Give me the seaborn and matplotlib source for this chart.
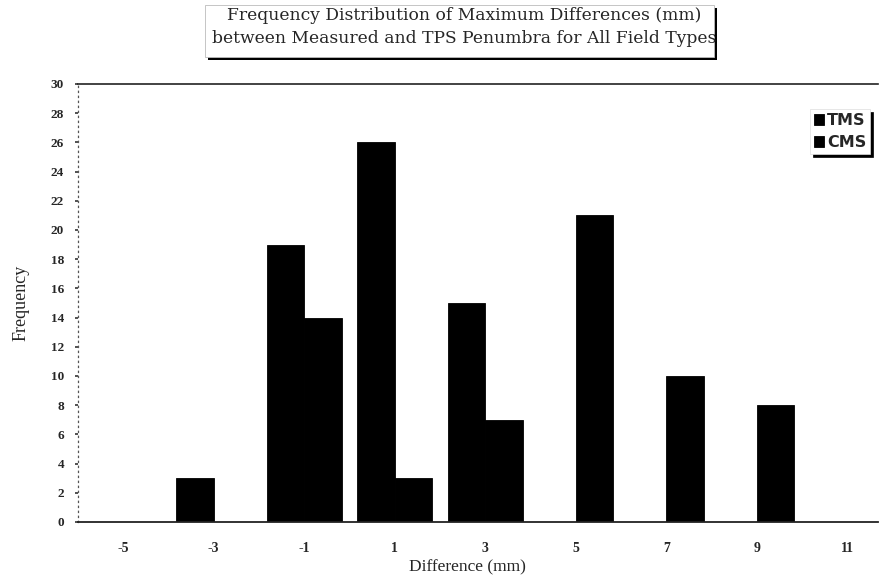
import matplotlib
matplotlib.use("Agg")
import matplotlib.pyplot as plt
from matplotlib.patches import Rectangle
import seaborn as sns
import pandas as pd

# Maximum penumbra differences (mm), binned, for the two measurement systems
bins = ["-5", "-3", "-1", "1", "3", "5", "7", "9", "11"]
tms_counts = [0, 3, 19, 26, 15, 0, 0, 0, 0]
cms_counts = [0, 0, 14, 3, 7, 21, 10, 8, 0]
series_names = ["TMS", "CMS"]
y_ticks = list(range(0, 31, 2))

df = pd.DataFrame({
    "Difference": bins * 2,
    "Frequency": tms_counts + cms_counts,
    "Series": [series_names[0]] * len(bins) + [series_names[1]] * len(bins),
})

sns.set_style("white")
serif = ["Liberation Serif", "DejaVu Serif"]
plt.rcParams["font.family"] = serif

fig = plt.figure(figsize=(8.83, 5.82), dpi=100)
ax = fig.add_axes([78 / 883, 60 / 582, 800 / 883, 438 / 582])

sns.barplot(data=df, x="Difference", y="Frequency", hue="Series",
            order=bins, hue_order=series_names,
            palette=["black", "black"], width=0.83, gap=0,
            edgecolor="black", linewidth=0.6, ax=ax)

ax.set_xlim(-0.5, 8.34)
ax.set_ylim(0, 30)
ax.set_yticks(y_ticks)
ax.set_yticklabels([str(v) for v in y_ticks], fontsize=9.5, fontweight="bold")
ax.tick_params(axis="y", which="both", left=True, length=2, width=1.2,
               pad=8, color="#333333")
ax.tick_params(axis="x", bottom=False, pad=11)
for lab in ax.get_xticklabels():
    lab.set_fontsize(10)
    lab.set_fontweight("bold")

# Axis frame: dotted left axis, solid base and top line, no right edge
ax.spines["left"].set_linestyle((0, (1, 3)))
ax.spines["left"].set_color("#555555")
ax.spines["left"].set_linewidth(0.9)
ax.spines["bottom"].set_color("#222222")
ax.spines["bottom"].set_linewidth(1.3)
ax.spines["top"].set_color("#222222")
ax.spines["top"].set_linewidth(1.2)
ax.spines["right"].set_visible(False)

ax.set_xlabel("Difference (mm)", fontsize=12.5)
ax.xaxis.set_label_coords(0.487, -0.086)
ax.set_ylabel("Frequency", fontsize=13)
ax.yaxis.set_label_coords(-0.061, 0.5)

handles, labels = ax.get_legend_handles_labels()
leg = ax.legend(handles, labels, loc="upper right",
                bbox_to_anchor=(870 / 883, 1 - 109 / 582),
                bbox_transform=fig.transFigure,
                prop={"family": ["DejaVu Sans"], "size": 11.5,
                      "weight": "bold"},
                handlelength=0.65, handleheight=0.75, handletextpad=0.15,
                labelspacing=0.45, borderpad=0.25, borderaxespad=0,
                frameon=True, fancybox=False,
                shadow={"color": "black", "alpha": 1, "ox": 2, "oy": -2})
leg.get_frame().set_edgecolor("#dddddd")
leg.get_frame().set_linewidth(0.5)

# Title panel with a drop shadow
box_x0, box_y0, box_w, box_h = 205 / 883, 1 - 57 / 582, 509 / 883, 52 / 582
fig.patches.append(Rectangle((box_x0 + 3 / 883, box_y0 - 3 / 582), box_w, box_h,
                             transform=fig.transFigure, facecolor="black",
                             edgecolor="none", zorder=1))
fig.patches.append(Rectangle((box_x0, box_y0), box_w, box_h,
                             transform=fig.transFigure, facecolor="white",
                             edgecolor="#bbbbbb", linewidth=0.6, zorder=2))
fig.text(464 / 883, 1 - 27 / 582,
         "Frequency Distribution of Maximum Differences (mm)\n"
         "between Measured and TPS Penumbra for All Field Types",
         ha="center", va="center", fontsize=12.3, linespacing=1.4,
         family=["DejaVu Serif"], zorder=3)

fig.savefig("out.png", dpi=100)
